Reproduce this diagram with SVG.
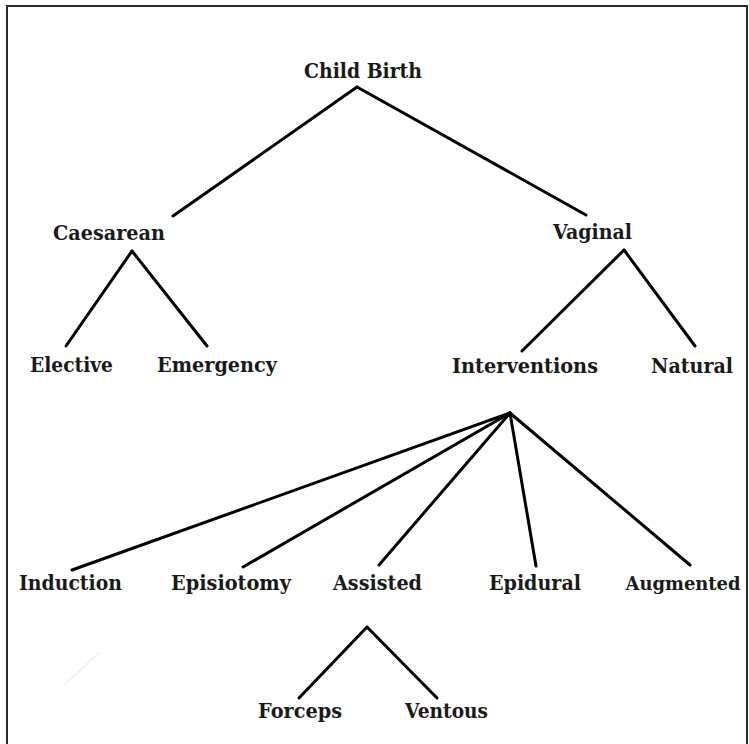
<svg xmlns="http://www.w3.org/2000/svg" width="749" height="744" viewBox="0 0 749 744">
<style>
.lbl{font-family:"DejaVu Serif","Liberation Serif",serif;font-size:19.5px;font-weight:bold;fill:#1a1a1a;text-anchor:middle}
.edge{stroke:#000;stroke-width:3;fill:none;stroke-linecap:round}
</style>
<rect x="0" y="0" width="749" height="744" fill="#fff"/>
<path d="M7,746 V6 H747 V746" fill="none" stroke="#2a2a2a" stroke-width="2"/>
<line x1="64" y1="685" x2="100" y2="652" stroke="#f2f2f2" stroke-width="2"/>
<g id="connectors">
<line class="edge" x1="357" y1="87" x2="173" y2="216"/>
<line class="edge" x1="357" y1="87" x2="586" y2="215"/>
<line class="edge" x1="132" y1="251" x2="66" y2="346"/>
<line class="edge" x1="132" y1="251" x2="207" y2="346"/>
<line class="edge" x1="624" y1="250" x2="522" y2="351"/>
<line class="edge" x1="624" y1="250" x2="695" y2="346"/>
<line class="edge" x1="510" y1="413" x2="72" y2="570"/>
<line class="edge" x1="510" y1="413" x2="243" y2="567"/>
<line class="edge" x1="510" y1="413" x2="379" y2="565"/>
<line class="edge" x1="510" y1="413" x2="536" y2="566"/>
<line class="edge" x1="510" y1="413" x2="690" y2="565"/>
<line class="edge" x1="367" y1="627" x2="299" y2="698"/>
<line class="edge" x1="367" y1="627" x2="437" y2="698"/>
</g>
<g id="child-birth"><text class="lbl" x="363" y="78" textLength="118" lengthAdjust="spacingAndGlyphs">Child Birth</text></g>
<g id="caesarean"><text class="lbl" x="109" y="240" textLength="112" lengthAdjust="spacingAndGlyphs">Caesarean</text></g>
<g id="vaginal"><text class="lbl" x="592.5" y="239" textLength="79" lengthAdjust="spacingAndGlyphs">Vaginal</text></g>
<g id="elective"><text class="lbl" x="71.5" y="372" textLength="83" lengthAdjust="spacingAndGlyphs">Elective</text></g>
<g id="emergency"><text class="lbl" x="217" y="372" textLength="120" lengthAdjust="spacingAndGlyphs">Emergency</text></g>
<g id="interventions"><text class="lbl" x="525" y="373" textLength="146" lengthAdjust="spacingAndGlyphs">Interventions</text></g>
<g id="natural"><text class="lbl" x="692" y="373" textLength="82" lengthAdjust="spacingAndGlyphs">Natural</text></g>
<g id="induction"><text class="lbl" x="70.5" y="590" textLength="103" lengthAdjust="spacingAndGlyphs">Induction</text></g>
<g id="episiotomy"><text class="lbl" x="231" y="590" textLength="120" lengthAdjust="spacingAndGlyphs">Episiotomy</text></g>
<g id="assisted"><text class="lbl" x="377.5" y="590" textLength="89" lengthAdjust="spacingAndGlyphs">Assisted</text></g>
<g id="epidural"><text class="lbl" x="535" y="590" textLength="92" lengthAdjust="spacingAndGlyphs">Epidural</text></g>
<g id="augmented"><text class="lbl" x="683" y="590" style="font-size:18.5px" textLength="115" lengthAdjust="spacingAndGlyphs">Augmented</text></g>
<g id="forceps"><text class="lbl" x="300" y="718" textLength="84" lengthAdjust="spacingAndGlyphs">Forceps</text></g>
<g id="ventous"><text class="lbl" x="446.5" y="718" textLength="83" lengthAdjust="spacingAndGlyphs">Ventous</text></g>
</svg>
